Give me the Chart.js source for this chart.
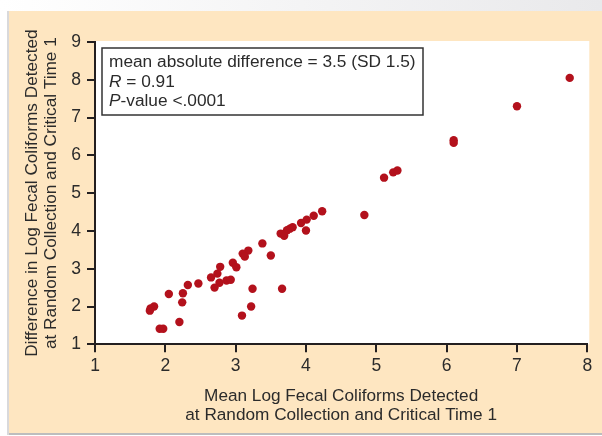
<!DOCTYPE html>
<html><head><meta charset="utf-8">
<script src="https://cdn.jsdelivr.net/npm/chart.js@4"></script>
<style>html,body{margin:0;padding:0;background:#fff}</style>
</head><body>
<canvas id="c" width="602" height="436" style="display:block;width:602px;height:436px"></canvas>
<script>
// Mean log fecal coliforms (x) and difference in log fecal coliforms (y)
const meanLog = [7.75, 7.00, 6.10, 6.10, 5.11, 5.24, 5.30, 4.83, 4.23, 4.11, 4.01, 3.93, 4.00, 3.81, 3.77, 3.73, 3.64, 3.69,
  3.38, 3.50, 3.18, 3.10, 3.13, 2.96, 3.01, 2.78, 2.74, 2.65, 2.77, 2.70, 2.87, 2.93, 2.47, 2.32, 2.25, 2.05, 2.24,
  1.84, 1.79, 1.78, 2.20, 1.92, 1.97, 3.09, 3.22, 3.24, 3.66];
const diffLog = [8.05, 7.30, 6.40, 6.33, 5.41, 5.55, 5.60, 4.42, 4.52, 4.40, 4.30, 4.21, 4.01, 4.10, 4.06, 4.02, 3.93, 3.87,
  3.67, 3.35, 3.48, 3.40, 3.32, 3.16, 3.04, 3.05, 2.87, 2.77, 2.63, 2.50, 2.69, 2.71, 2.61, 2.57, 2.35, 2.33, 2.11,
  2.00, 1.95, 1.89, 1.59, 1.41, 1.41, 1.76, 2.00, 2.47, 2.47];
const xTickLabels = ['1', '2', '3', '4', '5', '6', '7', '8'];
const yTickLabels = ['1', '2', '3', '4', '5', '6', '7', '8', '9'];
const xTitle = ['Mean Log Fecal Coliforms Detected', 'at Random Collection and Critical Time 1'];
const yTitle = ['Difference in Log Fecal Coliforms Detected', 'at Random Collection and Critical Time 1'];
const statLines = [
  [{ t: 'mean absolute difference = 3.5 (SD 1.5)', i: false }],
  [{ t: 'R', i: true }, { t: ' = 0.91', i: false }],
  [{ t: 'P', i: true }, { t: '-value <.0001', i: false }]
];

const FONT = '"Liberation Sans", Arial, Helvetica, sans-serif';
const TXT = '#2b2b2b';
const AX = '#231f20';
Chart.defaults.font.family = FONT;

const points = meanLog.map((x, k) => ({ x: x, y: diffLog[k] }));

const bgPlugin = {
  id: 'bg',
  beforeDraw(chart) {
    const { ctx, width, height, chartArea: a } = chart;
    ctx.save();
    ctx.fillStyle = '#ffffff';
    ctx.fillRect(0, 0, width, height);
    const g = ctx.createLinearGradient(0, 0, width, 0);
    g.addColorStop(0, '#ffffff');
    g.addColorStop(1, '#e9e9eb');
    ctx.fillStyle = g;
    ctx.fillRect(0, 0, width, 11);
    ctx.fillStyle = '#d9d9db';
    ctx.fillRect(7, 11, 2, 424);
    ctx.fillStyle = '#fee6c1';
    ctx.fillRect(9, 11, width - 9, 422);
    ctx.fillStyle = '#bdbdbd';
    ctx.fillRect(9, 433, width - 9, 2);
    ctx.fillStyle = '#ffffff';
    ctx.fillRect(a.left, a.top - 1, a.right - a.left + 2, a.bottom - a.top + 1);
    ctx.restore();
  }
};

const statsPlugin = {
  id: 'stats',
  afterDatasetsDraw(chart) {
    const { ctx, chartArea: a } = chart;
    const bx = a.left + 7, by = a.top + 6, bw = 321, bh = 67;
    ctx.save();
    ctx.fillStyle = '#ffffff';
    ctx.fillRect(bx, by, bw, bh);
    ctx.strokeStyle = '#333333';
    ctx.lineWidth = 1.5;
    ctx.strokeRect(bx, by, bw, bh);
    ctx.fillStyle = TXT;
    ctx.textBaseline = 'middle';
    ctx.textAlign = 'left';
    statLines.forEach((segs, li) => {
      let x = bx + 7;
      const y = by + 14.5 + li * 19.5;
      segs.forEach(s => {
        ctx.font = (s.i ? 'italic ' : '') + '17.3px ' + FONT;
        ctx.fillText(s.t, x, y);
        x += ctx.measureText(s.t).width;
      });
    });
    ctx.restore();
  }
};

new Chart(document.getElementById('c'), {
  type: 'scatter',
  data: {
    datasets: [{
      data: points,
      backgroundColor: '#b3111c',
      borderWidth: 0,
      pointRadius: 4.2,
      pointHoverRadius: 4.2
    }]
  },
  options: {
    responsive: false,
    animation: false,
    events: [],
    layout: { padding: { left: 0, right: 14.7, top: 42, bottom: 0 } },
    plugins: { legend: { display: false }, tooltip: { enabled: false } },
    scales: {
      x: {
        type: 'linear', min: 1, max: 8,
        afterFit: s => { s.height = 91.7; },
        ticks: {
          stepSize: 1, color: TXT, font: { size: 17.5 }, padding: 3,
          callback: (v) => xTickLabels[v - 1] ?? ''
        },
        grid: { drawOnChartArea: false, drawTicks: true, tickLength: 8, color: AX, lineWidth: 2 },
        border: { display: true, color: AX, width: 2 },
        title: { display: true, text: xTitle, color: TXT, font: { size: 17.2, lineHeight: 1.12 }, padding: { top: 0, bottom: 11 } }
      },
      y: {
        type: 'linear', min: 1, max: 9,
        afterFit: s => { s.width = 95; },
        ticks: {
          stepSize: 1, color: TXT, font: { size: 17.5 }, padding: 6,
          callback: (v) => yTickLabels[v - 1] ?? ''
        },
        grid: { drawOnChartArea: false, drawTicks: true, tickLength: 8, color: AX, lineWidth: 2 },
        border: { display: true, color: AX, width: 2 },
        title: { display: true, text: yTitle, color: TXT, font: { size: 17.2, lineHeight: 1.14 }, padding: { top: 22, bottom: 0 } }
      }
    }
  },
  plugins: [bgPlugin, statsPlugin]
});
</script>
</body></html>
